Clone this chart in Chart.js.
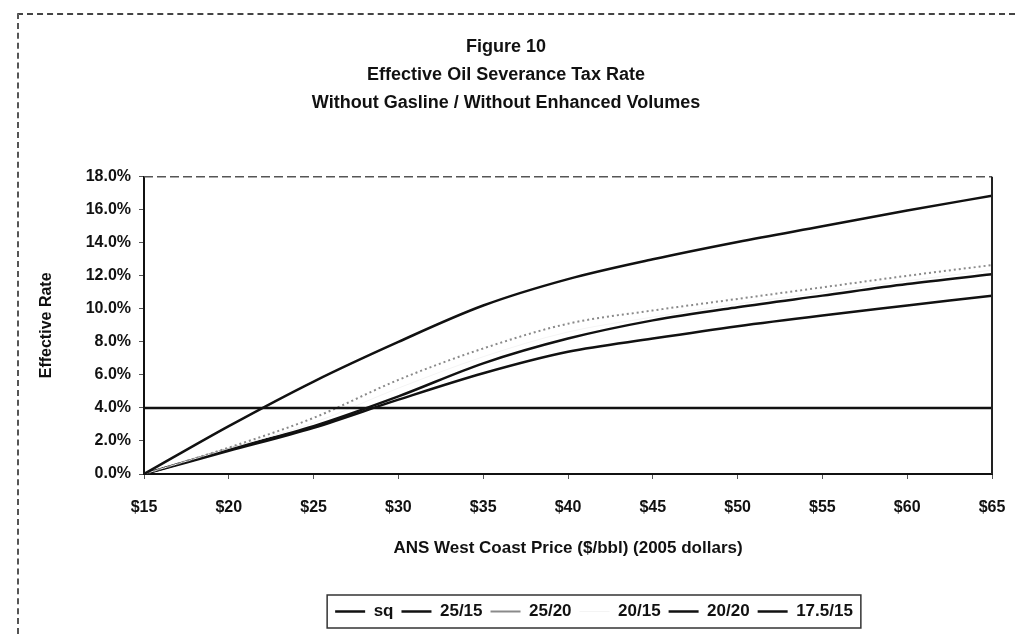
<!DOCTYPE html>
<html>
<head>
<meta charset="utf-8">
<script src="https://cdn.jsdelivr.net/npm/chart.js@4.4.1/dist/chart.umd.min.js"></script>
<style>
  html, body { margin: 0; padding: 0; background: #fff; }
  #wrap { position: relative; width: 1015px; height: 634px; }
  #page { position: absolute; left: 17px; top: 13px; right: 0; bottom: 0;
          border-top: 2px dashed #444; border-left: 2px dashed #555; }
  #myChart { position: absolute; left: 0; top: 0; }
</style>
</head>
<body>
<div id="wrap">
  <div id="page"></div>
  <canvas id="myChart" width="1015" height="634"></canvas>
</div>
<script>
// ANS price ($/bbl, 2005 dollars)
const prices = [15, 20, 25, 30, 35, 40, 45, 50, 55, 60, 65];

// effective rate (%) for each case
const sq      = [4.0, 4.0, 4.0, 4.0, 4.0, 4.0, 4.0, 4.0, 4.0, 4.0, 4.0];
const r25_15  = [0, 2.9, 5.6, 8.0, 10.2, 11.8, 13.0, 14.05, 15.0, 15.95, 16.85];
const r25_20  = [0, 1.6, 3.4, 5.7, 7.6, 9.1, 9.9, 10.6, 11.3, 12.0, 12.65];
const r20_15  = [0, 1.55, 3.1, 5.2, 7.1, 8.6, 9.5, 10.3, 11.0, 11.7, 12.35];
const r20_20  = [0, 1.5, 2.9, 4.7, 6.7, 8.2, 9.3, 10.1, 10.8, 11.5, 12.1];
const r17_15  = [0, 1.4, 2.8, 4.5, 6.1, 7.4, 8.2, 8.95, 9.6, 10.2, 10.8];

const FONT = '"Liberation Sans", Arial, sans-serif';
Chart.defaults.font.family = FONT;
Chart.defaults.color = '#111';

function pts(vals) {
    return vals.map(function(v, i) { return {x: prices[i], y: v}; });
}

function line(label, vals, color, width, dash) {
    return {
        label: label,
        data: pts(vals),
        borderColor: color,
        backgroundColor: color,
        borderWidth: width,
        borderDash: dash || [],
        pointRadius: 0,
        cubicInterpolationMode: 'monotone',
        fill: false
    };
}

// plot frame (dashed top, solid right) and the box round the legend
const frame = {
    id: 'frame',
    afterLayout(chart) {
        // legend sits under the plot, a bit right of the page centre
        chart.legend.left += 88;
        chart.legend.right += 88;
    },
    afterDraw(chart) {
        const ctx = chart.ctx;
        const a = chart.chartArea;
        ctx.save();
        ctx.strokeStyle = '#555';
        ctx.lineWidth = 1.5;
        ctx.setLineDash([9, 4]);
        ctx.beginPath();
        ctx.moveTo(a.left, a.top);
        ctx.lineTo(a.right, a.top);
        ctx.stroke();
        ctx.setLineDash([]);
        ctx.strokeStyle = '#222';
        ctx.lineWidth = 2;
        ctx.beginPath();
        ctx.moveTo(a.right, a.top);
        ctx.lineTo(a.right, a.bottom);
        ctx.stroke();

        const boxes = chart.legend.legendHitBoxes;
        if (boxes && boxes.length) {
            const l = Math.min(...boxes.map(b => b.left)) - 8;
            const r = Math.max(...boxes.map(b => b.left + b.width)) + 8;
            const t = Math.min(...boxes.map(b => b.top)) - 8;
            const btm = Math.max(...boxes.map(b => b.top + b.height)) + 8;
            ctx.strokeStyle = '#333';
            ctx.lineWidth = 1.5;
            ctx.strokeRect(l, t, r - l, btm - t);
        }
        ctx.restore();
    }
};

const config = {
    type: 'line',
    data: {
        datasets: [
            line('sq', sq, '#111', 2.5),
            line('25/15', r25_15, '#111', 2.5),
            line('25/20', r25_20, '#8a8a8a', 2, [2, 3]),
            line('20/15', r20_15, '#f4f4f4', 1),
            line('20/20', r20_20, '#111', 2.5),
            line('17.5/15', r17_15, '#111', 2.5)
        ]
    },
    options: {
        responsive: false,
        animation: false,
        layout: { padding: { left: 20, right: 23, top: 0, bottom: 4 } },
        plugins: {
            title: {
                display: true,
                text: ['Figure 10', 'Effective Oil Severance Tax Rate', 'Without Gasline / Without Enhanced Volumes'],
                font: { size: 18, weight: 'bold', lineHeight: 1.55 },
                padding: { top: 33, bottom: 60 },
                color: '#111'
            },
            legend: {
                position: 'bottom',
                labels: {
                    usePointStyle: true,
                    pointStyle: 'line',
                    pointStyleWidth: 30,
                    boxWidth: 30,
                    padding: 8,
                    font: { size: 17, weight: 'bold' },
                    color: '#111'
                }
            },
            tooltip: { enabled: false }
        },
        scales: {
            x: {
                type: 'linear',
                min: 15,
                max: 65,
                afterFit: function(s) {
                    s.height = 121;
                    s.paddingLeft = 0;
                    s.paddingRight = 0;
                },
                ticks: {
                    stepSize: 5,
                    padding: 19,
                    font: { size: 16, weight: 'bold' },
                    callback: function(v) { return '$' + v; }
                },
                grid: { drawOnChartArea: false, drawTicks: true, tickLength: 5, color: '#555' },
                border: { display: true, color: '#111', width: 2 },
                title: {
                    display: true,
                    text: 'ANS West Coast Price ($/bbl) (2005 dollars)',
                    font: { size: 17, weight: 'bold' },
                    padding: { top: 0, bottom: 36 }
                }
            },
            y: {
                min: 0,
                max: 18,
                afterFit: function(s) { s.width = 124; },
                ticks: {
                    stepSize: 2,
                    padding: 8,
                    autoSkip: false,
                    font: { size: 16, weight: 'bold' },
                    callback: function(v) { return v.toFixed(1) + '%'; }
                },
                grid: { drawOnChartArea: false, drawTicks: true, tickLength: 5, color: '#555' },
                border: { display: true, color: '#111', width: 2 },
                title: {
                    display: true,
                    text: 'Effective Rate',
                    font: { size: 16, weight: 'bold' },
                    padding: { top: 17, bottom: 0 }
                }
            }
        }
    },
    plugins: [frame]
};

const myChart = new Chart(document.getElementById('myChart'), config);
</script>
</body>
</html>
